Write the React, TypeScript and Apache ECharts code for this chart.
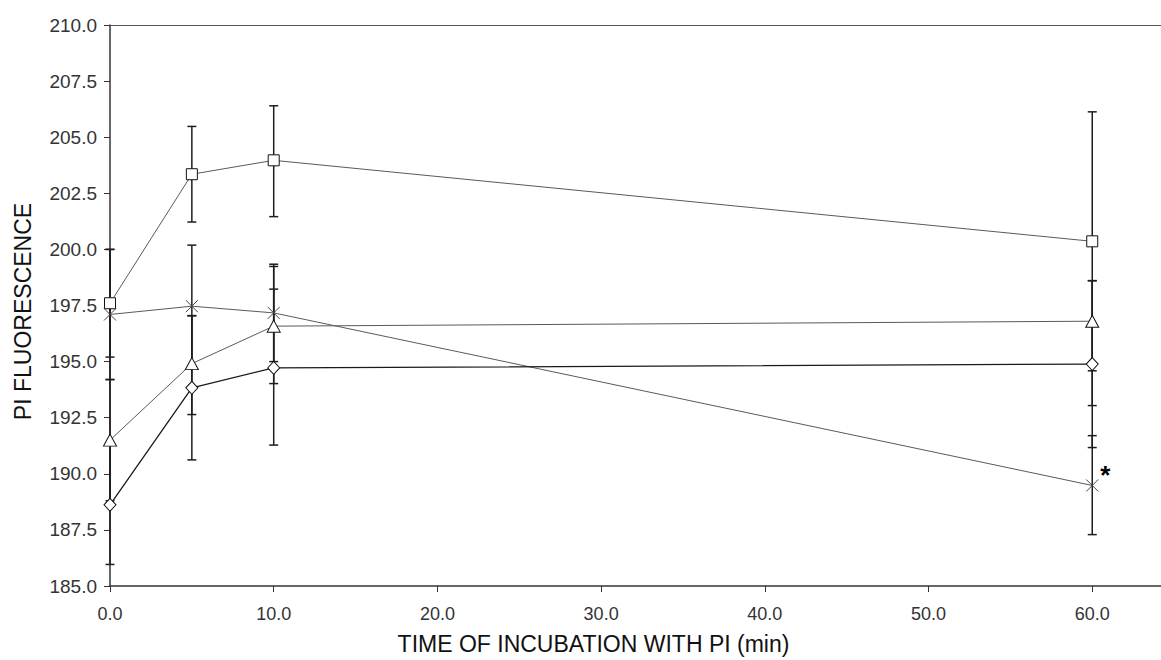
import React, { useEffect, useRef } from "react";
import * as echarts from "echarts";

// Incubation times (min)
const times = [0, 5, 10, 60];

// Mean PI fluorescence per group, with lower / upper error-bar ends
const squareMean = [197.6, 203.35, 203.97, 200.36];
const squareLow = [195.2, 201.22, 201.46, 194.59];
const squareHigh = [200.0, 205.48, 206.4, 206.13];

const crossMean = [197.1, 197.47, 197.17, 189.48];
const crossLow = [194.2, 194.75, 195.0, 187.29];
const crossHigh = [200.0, 200.19, 199.34, 191.7];

const triangleMean = [191.5, 194.91, 196.58, 196.8];
const triangleLow = [188.8, 192.64, 194.02, 193.04];
const triangleHigh = [194.2, 197.05, 199.24, 198.6];

const diamondMean = [188.62, 193.83, 194.72, 194.89];
const diamondLow = [185.96, 190.62, 191.28, 191.17];
const diamondHigh = [191.28, 197.04, 198.23, 198.61];

// Significance marker on the cross group at 60 min
const significantIndex = 3;
const significantMark = "*";

const FONT = "'Liberation Sans', Arial, Helvetica, sans-serif";
const CROSS_PATH = "path://M0,0L10,10M10,0L0,10";

type Group = {
  name: string;
  mean: number[];
  low: number[];
  high: number[];
  symbol: string;
  symbolSize: number | number[];
  lineColor: string;
  lineWidth: number;
  markerStroke: string;
  markerFill: string;
};

const groups: Group[] = [
  {
    name: "square",
    mean: squareMean,
    low: squareLow,
    high: squareHigh,
    symbol: "rect",
    symbolSize: 11,
    lineColor: "#5a5a5a",
    lineWidth: 1,
    markerStroke: "#111",
    markerFill: "#fff",
  },
  {
    name: "cross",
    mean: crossMean,
    low: crossLow,
    high: crossHigh,
    symbol: CROSS_PATH,
    symbolSize: 12,
    lineColor: "#5a5a5a",
    lineWidth: 1,
    markerStroke: "#444",
    markerFill: "rgba(0,0,0,0)",
  },
  {
    name: "triangle",
    mean: triangleMean,
    low: triangleLow,
    high: triangleHigh,
    symbol: "triangle",
    symbolSize: [13, 12],
    lineColor: "#5a5a5a",
    lineWidth: 1,
    markerStroke: "#111",
    markerFill: "#fff",
  },
  {
    name: "diamond",
    mean: diamondMean,
    low: diamondLow,
    high: diamondHigh,
    symbol: "diamond",
    symbolSize: [12, 13],
    lineColor: "#1a1a1a",
    lineWidth: 1.3,
    markerStroke: "#111",
    markerFill: "#fff",
  },
];

function buildOption(): echarts.EChartsOption {
  const errorData: number[][] = [];
  groups.forEach((g) => {
    times.forEach((t, i) => errorData.push([t, g.low[i], g.high[i]]));
  });

  const lineSeries = groups.map((g) => ({
    type: "line" as const,
    name: g.name,
    z: 3,
    symbol: g.symbol,
    symbolSize: g.symbolSize,
    showAllSymbol: true,
    lineStyle: { color: g.lineColor, width: g.lineWidth },
    itemStyle: { color: g.markerFill, borderColor: g.markerStroke, borderWidth: 1 },
    emphasis: { disabled: true },
    data: times.map((t, i) => {
      const item: any = { value: [t, g.mean[i]] };
      if (g.name === "cross" && i === significantIndex) {
        item.label = {
          show: true,
          formatter: significantMark,
          position: "inside",
          offset: [13, -10],
          color: "#000",
          fontFamily: FONT,
          fontWeight: "bold",
          fontSize: 26,
        };
      }
      return item;
    }),
  }));

  return {
    animation: false,
    backgroundColor: "#fff",
    grid: { left: 110, right: 0, top: 25, bottom: 72, containLabel: false },
    xAxis: [
      {
        type: "value",
        min: 0,
        max: 64.2,
        interval: 10,
        position: "bottom",
        name: "TIME OF INCUBATION WITH PI (min)",
        nameLocation: "middle",
        nameGap: 46,
        nameTextStyle: {
          fontFamily: FONT,
          fontSize: 23,
          color: "#111",
          padding: [0, 84, 0, 0],
        },
        axisLine: { show: true, onZero: false, lineStyle: { color: "#333", width: 1.5 } },
        axisTick: { show: true, inside: false, length: 6, lineStyle: { color: "#333", width: 1 } },
        axisLabel: {
          fontFamily: FONT,
          fontSize: 18,
          color: "#333",
          margin: 19,
          showMaxLabel: false,
          formatter: (v: number) => v.toFixed(1),
        },
        splitLine: { show: false },
      },
      {
        type: "value",
        min: 0,
        max: 64.2,
        position: "top",
        axisLine: { show: true, onZero: false, lineStyle: { color: "#555", width: 1 } },
        axisTick: { show: false },
        axisLabel: { show: false },
        splitLine: { show: false },
      },
    ],
    yAxis: {
      type: "value",
      min: 185,
      max: 210,
      interval: 2.5,
      name: "PI FLUORESCENCE",
      nameLocation: "middle",
      nameGap: 76,
      nameTextStyle: { fontFamily: FONT, fontSize: 23, color: "#111", padding: [0, 12, 0, 0] },
      axisLine: { show: true, onZero: false, lineStyle: { color: "#333", width: 1.5 } },
      axisTick: { show: true, inside: false, length: 6, lineStyle: { color: "#333", width: 1 } },
      axisLabel: {
        fontFamily: FONT,
        fontSize: 19,
        color: "#333",
        margin: 13,
        formatter: (v: number) => v.toFixed(1),
      },
      splitLine: { show: false },
    },
    series: [
      {
        type: "custom",
        name: "error bars",
        z: 1,
        clip: false,
        encode: { x: 0, y: [1, 2] },
        data: errorData,
        renderItem: (params: any, api: any) => {
          const x = api.value(0);
          const top = api.coord([x, api.value(2)]);
          const bot = api.coord([x, api.value(1)]);
          const w = 4.5;
          const style = { stroke: "#1e1e1e", lineWidth: 1.5 };
          return {
            type: "group",
            children: [
              { type: "line", shape: { x1: top[0], y1: top[1], x2: bot[0], y2: bot[1] }, style },
              { type: "line", shape: { x1: top[0] - w, y1: top[1], x2: top[0] + w, y2: top[1] }, style },
              { type: "line", shape: { x1: bot[0] - w, y1: bot[1], x2: bot[0] + w, y2: bot[1] }, style },
            ],
          };
        },
      } as any,
      ...lineSeries,
    ],
  };
}

export default function App() {
  const ref = useRef<HTMLDivElement>(null);

  useEffect(() => {
    if (!ref.current) return;
    const chart = echarts.init(ref.current, undefined, { renderer: "svg" });
    chart.setOption(buildOption());
    return () => chart.dispose();
  }, []);

  return (
    <div
      ref={ref}
      style={{ position: "fixed", left: 0, top: 0, width: 1161, height: 660, background: "#fff" }}
    />
  );
}
